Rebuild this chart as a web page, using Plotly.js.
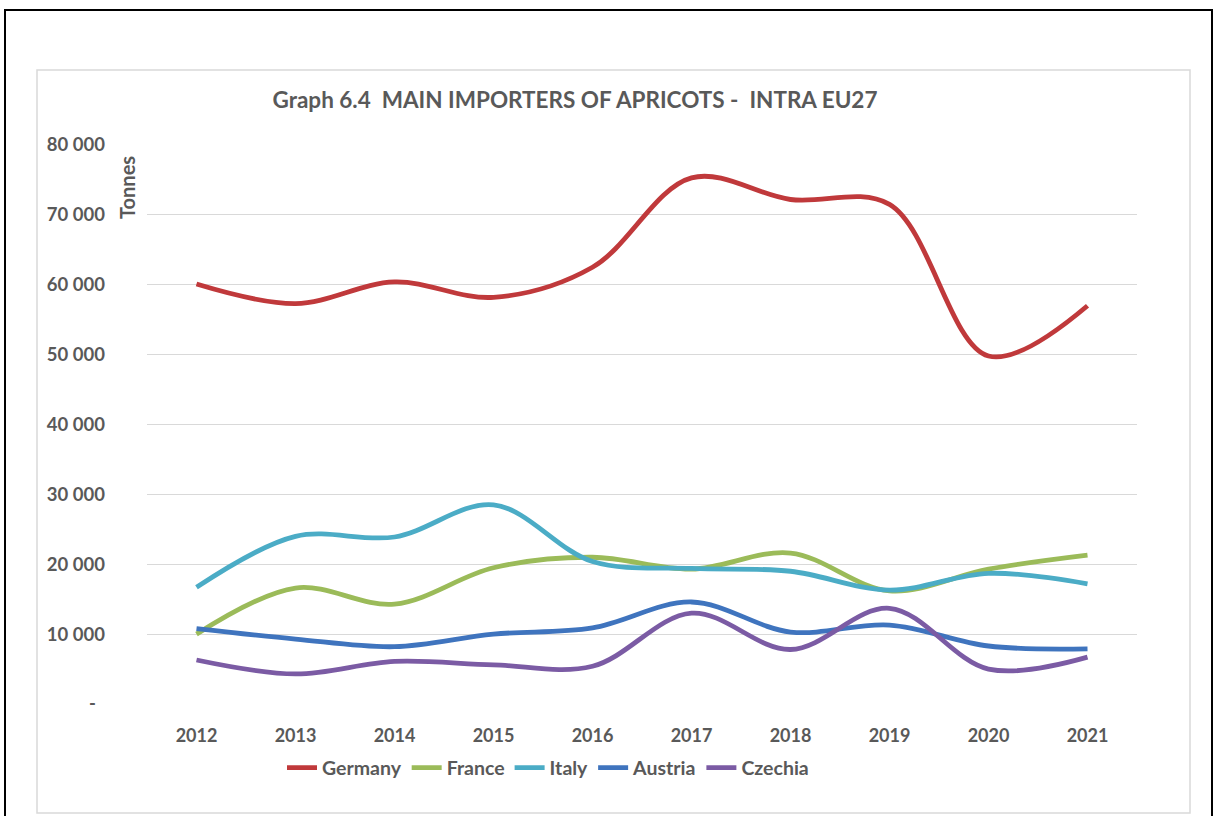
<!DOCTYPE html>
<html>
<head>
<meta charset="utf-8">
<script src="https://cdn.plot.ly/plotly-3.0.1.min.js"></script>
<style>
html,body{margin:0;padding:0;background:#fff;}
#chart{width:1216px;height:816px;}
</style>
</head>
<body>
<div id="chart"></div>
<script>
const years = ['2012','2013','2014','2015','2016','2017','2018','2019','2020','2021'];
const germany = [60100, 57300, 60400, 58200, 62500, 75300, 72200, 71500, 49800, 57000];
const france  = [10000, 16600, 14300, 19500, 21000, 19300, 21600, 16200, 19300, 21300];
const italy   = [16700, 24000, 23900, 28500, 20400, 19400, 19000, 16300, 18700, 17200];
const austria = [10800, 9300, 8200, 10000, 10900, 14600, 10300, 11300, 8300, 7900];
const czechia = [6300, 4300, 6100, 5600, 5400, 13000, 7800, 13700, 5000, 6700];

const seriesNames = ['Germany','France','Italy','Austria','Czechia'];
const seriesData = [germany, france, italy, austria, czechia];
const seriesColors = ['#C0393B','#9BBB59','#4BACC6','#3F74BE','#7B5BA4'];

const yTickVals = [0,10000,20000,30000,40000,50000,60000,70000,80000];
const yTickText = ['-\u00a0\u00a0','10 000','20 000','30 000','40 000','50 000','60 000','70 000','80 000'];

const FONT = 'Lato, "Open Sans", sans-serif';
const GREY = '#595959';

const traces = seriesNames.map((n,i)=>({
  type:'scatter', mode:'lines', name:n, x:years, y:seriesData[i],
  line:{color:seriesColors[i], width:4.8, shape:'spline', smoothing:1}
}));

// pixel helpers -> paper coords (plot area 147..1137 x, 145..704 y)
const L=147, R=1137, T=145, B=704;
const px = v => (v-L)/(R-L);
const py = v => (B-v)/(B-T);

const layout = {
  width:1216, height:816,
  margin:{l:L, r:1216-R, t:T, b:816-B, pad:0},
  paper_bgcolor:'#ffffff', plot_bgcolor:'#ffffff',
  font:{family:FONT, color:GREY, size:18},
  title:{text:'<b>Graph 6.4  MAIN IMPORTERS OF APRICOTS -  INTRA EU27</b>',
         x:575/1216, xanchor:'center', y:1-100/816, yanchor:'middle',
         font:{family:FONT, size:22.5, color:GREY}},
  showlegend:true,
  legend:{orientation:'h', x:px(282), xanchor:'left', y:py(768), yanchor:'middle',
          font:{family:FONT, size:19.5, color:GREY, weight:'bold'}, bgcolor:'rgba(0,0,0,0)',
          itemwidth:30, traceorder:'normal'},
  xaxis:{type:'category', range:[-0.5,9.5], showgrid:false, zeroline:false, showline:false,
         ticks:'', ticklabelstandoff:19,
         tickfont:{family:FONT, size:18, color:GREY, weight:'bold'}, fixedrange:true},
  yaxis:{range:[0,80000], tickvals:yTickVals, ticktext:yTickText, showgrid:true,
         gridcolor:'#d9d9d9', gridwidth:1, zeroline:false, showline:false, ticks:'',
         ticklabelstandoff:41,
         tickfont:{family:FONT, size:18.5, color:GREY, weight:'bold'}, fixedrange:true},
  annotations:[{text:'<b>Tonnes</b>', xref:'paper', yref:'paper', x:px(127), y:py(188),
                xanchor:'center', yanchor:'middle', textangle:-90, showarrow:false,
                font:{family:FONT, size:20, color:GREY}}],
  shapes:[
    {type:'rect', xref:'paper', yref:'paper', x0:px(5), x1:px(1212), y0:py(840), y1:py(10),
     line:{color:'#000000', width:2}, fillcolor:'rgba(0,0,0,0)', layer:'below'},
    {type:'rect', xref:'paper', yref:'paper', x0:px(37), x1:px(1190), y0:py(813), y1:py(70),
     line:{color:'#d9d9d9', width:1.5}, fillcolor:'rgba(0,0,0,0)', layer:'below'}
  ]
};

Plotly.newPlot('chart', traces, layout, {displayModeBar:false, staticPlot:true});
</script>
</body>
</html>
